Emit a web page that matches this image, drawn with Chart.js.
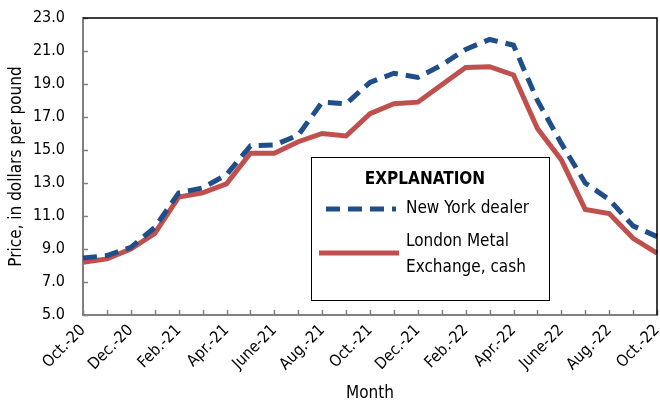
<!DOCTYPE html>
<html>
<head>
<meta charset="utf-8">
<script src="https://cdn.jsdelivr.net/npm/chart.js@4/dist/chart.umd.min.js"></script>
<style>
  html, body { margin: 0; padding: 0; background: #fff; }
  #wrap { width: 660px; height: 406px; }
</style>
</head>
<body>
<div id="wrap"><canvas id="chart" width="660" height="406"></canvas></div>
<script>
const months = [
  'Oct.-20', 'Nov.-20', 'Dec.-20', 'Jan.-21', 'Feb.-21', 'Mar.-21', 'Apr.-21', 'May-21',
  'June-21', 'July-21', 'Aug.-21', 'Sept.-21', 'Oct.-21', 'Nov.-21', 'Dec.-21', 'Jan.-22',
  'Feb.-22', 'Mar.-22', 'Apr.-22', 'May-22', 'June-22', 'July-22', 'Aug.-22', 'Sept.-22', 'Oct.-22'
];
const newYorkDealer = [
  8.45, 8.6, 9.1, 10.3, 12.4, 12.7, 13.5, 15.25, 15.3, 15.9, 17.9, 17.8,
  19.1, 19.65, 19.4, 20.15, 21.1, 21.7, 21.35, 18.0, 15.4, 13.0, 12.0, 10.4, 9.75
];
const lmeCash = [
  8.2, 8.4, 9.0, 9.95, 12.15, 12.4, 12.95, 14.8, 14.8, 15.5, 16.0, 15.85,
  17.2, 17.8, 17.9, 18.95, 20.0, 20.05, 19.55, 16.3, 14.4, 11.4, 11.15, 9.65, 8.75
];
const legendTitle = 'EXPLANATION';
const seriesNames = ['New York dealer', ['London Metal', 'Exchange, cash']];

const FONT = "'DejaVu Sans Condensed', 'Liberation Sans', Arial, sans-serif";
const BLUE = '#1f4e89';
const RED = '#c0504d';

// inner tick marks, top/right frame and the boxed legend
const decor = {
  id: 'decor',
  afterDatasetsDraw(chart) {
    const { ctx, chartArea: a, scales } = chart;
    ctx.save();
    ctx.strokeStyle = '#808080';
    ctx.lineWidth = 1.5;
    scales.y.ticks.forEach((t, i) => {
      const y = Math.round(scales.y.getPixelForTick(i)) + 0.5;
      ctx.beginPath(); ctx.moveTo(a.left, y); ctx.lineTo(a.left + 5, y); ctx.stroke();
    });
    months.forEach((m, i) => {
      const x = Math.round(scales.x.getPixelForValue(i)) + 0.5;
      ctx.beginPath(); ctx.moveTo(x, a.bottom); ctx.lineTo(x, a.bottom - 5); ctx.stroke();
    });
    ctx.strokeStyle = '#000';
    ctx.lineWidth = 1.5;
    ctx.beginPath();
    ctx.moveTo(a.left, a.top); ctx.lineTo(a.right, a.top); ctx.lineTo(a.right, a.bottom);
    ctx.stroke();

    // legend box
    const bx = 311, by = 157, bw = 238, bh = 143;
    ctx.fillStyle = '#fff';
    ctx.fillRect(bx, by, bw, bh);
    ctx.strokeStyle = '#000';
    ctx.lineWidth = 1;
    ctx.strokeRect(bx + 0.5, by + 0.5, bw, bh);
    ctx.fillStyle = '#000';
    ctx.textBaseline = 'middle';
    ctx.textAlign = 'center';
    ctx.font = 'bold 17px ' + FONT;
    ctx.fillText(legendTitle, bx + 114, by + 23);
    ctx.textAlign = 'left';
    ctx.font = '17px ' + FONT;

    ctx.lineWidth = 5;
    ctx.strokeStyle = BLUE;
    ctx.setLineDash([14, 8]);
    ctx.beginPath(); ctx.moveTo(bx + 15, by + 52); ctx.lineTo(bx + 85, by + 52); ctx.stroke();
    ctx.setLineDash([]);
    ctx.fillText(seriesNames[0], bx + 95, by + 52);

    ctx.strokeStyle = RED;
    ctx.beginPath(); ctx.moveTo(bx + 8, by + 96); ctx.lineTo(bx + 88, by + 96); ctx.stroke();
    ctx.fillText(seriesNames[1][0], bx + 95, by + 85);
    ctx.fillText(seriesNames[1][1], bx + 95, by + 111);
    ctx.restore();
  }
};

new Chart(document.getElementById('chart'), {
  type: 'line',
  data: {
    labels: months,
    datasets: [
      {
        label: 'New York dealer',
        data: newYorkDealer,
        borderColor: BLUE,
        borderWidth: 5,
        borderDash: [14, 8],
        pointRadius: 0,
        tension: 0,
        fill: false
      },
      {
        label: 'London Metal Exchange, cash',
        data: lmeCash,
        borderColor: RED,
        borderWidth: 5,
        pointRadius: 0,
        tension: 0,
        fill: false
      }
    ]
  },
  options: {
    responsive: false,
    animation: false,
    layout: { padding: { top: 18, right: 3, left: 0, bottom: 2 } },
    plugins: {
      legend: { display: false },
      tooltip: { enabled: false }
    },
    scales: {
      x: {
        offset: false,
        grid: { display: false, drawTicks: false },
        border: { color: '#808080', width: 2 },
        afterFit: s => { s.height = 89; s.paddingRight = 0; },
        ticks: {
          autoSkip: false,
          maxRotation: 45,
          minRotation: 45,
          padding: 6,
          color: '#000',
          font: { family: FONT, size: 16 },
          callback: (v, i) => (i % 2 === 0 ? months[i] : '')
        },
        title: {
          display: true,
          text: 'Month',
          color: '#000',
          font: { family: FONT, size: 17 },
          padding: { top: 0, bottom: 0 }
        }
      },
      y: {
        min: 5,
        max: 23,
        grid: { display: false, drawTicks: false },
        border: { color: '#808080', width: 2 },
        afterFit: s => { s.width = 83; s.paddingTop = 0; s.paddingBottom = 0; },
        ticks: {
          stepSize: 2,
          padding: 18,
          color: '#000',
          font: { family: FONT, size: 16 },
          callback: v => v.toFixed(1)
        },
        title: {
          display: true,
          text: 'Price, in dollars per pound',
          color: '#000',
          font: { family: FONT, size: 17 },
          padding: { top: 6, bottom: 0 }
        }
      }
    }
  },
  plugins: [decor]
});
</script>
</body>
</html>
